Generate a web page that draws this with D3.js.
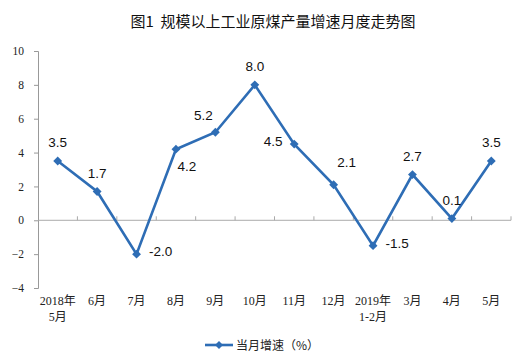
<!DOCTYPE html>
<html>
<head>
<meta charset="utf-8">
<script src="https://cdn.jsdelivr.net/npm/d3@7"></script>
<style>
  body { margin: 0; background: #fff; }
  svg { display: block; }
</style>
</head>
<body>
<div id="chart"></div>
<script>
const months = ['2018年|5月', '6月', '7月', '8月', '9月', '10月', '11月', '12月', '2019年|1-2月', '3月', '4月', '5月'];
const growth = [3.5, 1.7, -2.0, 4.2, 5.2, 8.0, 4.5, 2.1, -1.5, 2.7, 0.1, 3.5];
// where each value label sits relative to its point
const labelPos = ['up', 'up', 'right', 'downright', 'upleft', 'up', 'left', 'upright', 'right', 'up', 'up', 'up'];
const yTicks = [-4, -2, 0, 2, 4, 6, 8, 10];

const width = 515, height = 362;
const margin = {left: 38, right: 4, top: 51, bottom: 74};
const blue = '#2e6db5';
const serif = '"Liberation Serif", "Times New Roman", "Noto Sans CJK SC", serif';
const sans = '"Liberation Sans", Arial, "Noto Sans CJK SC", sans-serif';

const svg = d3.select('#chart').append('svg')
  .attr('width', width).attr('height', height);

const x = d3.scaleBand().domain(d3.range(months.length))
  .range([margin.left, width - margin.right]);
const y = d3.scaleLinear().domain([-4, 10])
  .range([height - margin.bottom, margin.top]);

svg.append('text')
  .attr('x', 273).attr('y', 27)
  .attr('text-anchor', 'middle')
  .attr('font-family', '"Noto Sans CJK SC", sans-serif')
  .attr('font-size', 15)
  .attr('fill', '#111')
  .style('white-space', 'pre')
  .text('图1  规模以上工业原煤产量增速月度走势图');

// y axis
const yAxis = svg.append('g')
  .attr('transform', `translate(${margin.left},0)`)
  .call(d3.axisLeft(y).tickValues(yTicks).tickSize(4).tickPadding(10));
yAxis.select('.domain').attr('stroke', '#999');
yAxis.selectAll('.tick line').attr('stroke', '#999');
yAxis.selectAll('.tick text')
  .attr('font-family', serif).attr('font-size', 11.5).attr('fill', '#222');

// zero line with category boundary ticks
svg.append('line')
  .attr('x1', margin.left).attr('x2', width - margin.right)
  .attr('y1', y(0)).attr('y2', y(0))
  .attr('stroke', '#aaa').attr('stroke-width', 1);
svg.append('g').selectAll('line')
  .data(d3.range(1, months.length + 1))
  .join('line')
  .attr('x1', d => margin.left + d * x.step())
  .attr('x2', d => margin.left + d * x.step())
  .attr('y1', y(0) - 4).attr('y2', y(0))
  .attr('stroke', '#aaa');

// x labels
const xl = svg.append('g').selectAll('text')
  .data(months)
  .join('text')
  .attr('text-anchor', 'middle')
  .attr('font-family', serif).attr('font-size', 12).attr('fill', '#222');
xl.each(function(d, i) {
  const parts = d.split('|');
  const cx = x(i) + x.bandwidth() / 2;
  d3.select(this).selectAll('tspan')
    .data(parts)
    .join('tspan')
    .attr('x', cx)
    .attr('y', (p, j) => 305 + j * 16)
    .text(p => p);
});

// series
const cx = i => x(i) + x.bandwidth() / 2;
const line = d3.line().x((d, i) => cx(i)).y(d => y(d));
svg.append('path')
  .datum(growth)
  .attr('d', line)
  .attr('fill', 'none')
  .attr('stroke', blue)
  .attr('stroke-width', 2.6)
  .attr('stroke-linejoin', 'miter');

svg.append('g').selectAll('path')
  .data(growth)
  .join('path')
  .attr('d', d3.symbol(d3.symbolDiamond2, 50))
  .attr('transform', (d, i) => `translate(${cx(i)},${y(d)})`)
  .attr('fill', blue);

const offsets = {
  up: [0, -14], right: [24, 2], downright: [11, 22], upleft: [-12, -12],
  left: [-21, 2], upright: [13, -18]
};
svg.append('g').selectAll('text')
  .data(growth)
  .join('text')
  .attr('x', (d, i) => cx(i) + offsets[labelPos[i]][0])
  .attr('y', (d, i) => y(d) + offsets[labelPos[i]][1])
  .attr('text-anchor', 'middle')
  .attr('font-family', sans).attr('font-size', 13.5).attr('fill', '#111')
  .text(d => d.toFixed(1));

// legend
const lg = svg.append('g').attr('transform', 'translate(205,345)');
lg.append('line').attr('x1', 0).attr('x2', 28).attr('y1', 0).attr('y2', 0)
  .attr('stroke', blue).attr('stroke-width', 2.6);
lg.append('path').attr('d', d3.symbol(d3.symbolDiamond2, 40))
  .attr('transform', 'translate(14,0)').attr('fill', blue);
lg.append('text').attr('x', 31).attr('y', 4.5)
  .attr('font-family', '"Noto Sans CJK SC", sans-serif')
  .attr('font-size', 12).attr('fill', '#222')
  .text('当月增速（%）');
</script>
</body>
</html>
